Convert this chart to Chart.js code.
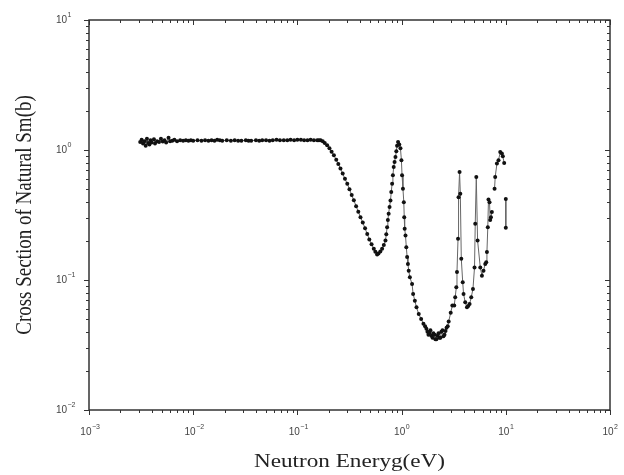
<!DOCTYPE html>
<html>
<head>
<meta charset="utf-8">
<script src="https://cdn.jsdelivr.net/npm/chart.js@4/dist/chart.umd.min.js"></script>
<style>
  html, body { margin: 0; padding: 0; background: #fff; }
  #wrap { width: 624px; height: 475px; }
</style>
</head>
<body>
<div id="wrap"><canvas id="chart" width="624" height="475"></canvas></div>
<script>
// neutron energy (eV), null = break in the line
const energy = [
    0.0031, 0.0032, 0.0033, 0.0034, 0.0035, 0.0036, 0.0037, 0.0038, 0.0039, 0.0040,
    0.0042, 0.0043, 0.0045, 0.0047, 0.0049, 0.0051, 0.0053, 0.0055, 0.0058, 0.0060,
    0.0063, 0.0066, 0.0070, 0.0075, 0.0080, 0.0085, 0.0090, 0.0095, 0.010, 0.011,
    0.012, 0.013, 0.014, 0.015, 0.016, 0.017, 0.018, 0.019, 0.021, 0.023,
    0.025, 0.027, 0.029, 0.032, 0.034, 0.036, 0.040, 0.043, 0.046, 0.050,
    0.054, 0.058, 0.063, 0.068, 0.074, 0.080, 0.086, 0.093, 0.100, 0.108,
    0.116, 0.125, 0.134, 0.144, 0.155, 0.161, 0.167, 0.175, 0.183, 0.193,
    0.203, 0.213, 0.224, 0.236, 0.247, 0.259, 0.272, 0.286, 0.301, 0.316,
    0.332, 0.348, 0.366, 0.384, 0.403, 0.424, 0.446, 0.468, 0.490, 0.515,
    0.541, 0.560, 0.582, 0.600, 0.625, 0.650, 0.675, 0.700, 0.713, 0.726,
    0.738, 0.751, 0.766, 0.782, 0.796, 0.811, 0.825, 0.840, 0.856, 0.873,
    0.890, 0.905, 0.925, 0.950, 0.975, 0.996, 1.01, 1.03, 1.05, 1.06,
    1.07, 1.09, 1.11, 1.13, 1.15, 1.17, 1.20, 1.26, 1.29, 1.34,
    1.39, 1.46, 1.54, 1.62, 1.68, 1.73, 1.77, 1.81, 1.85, 1.89,
    1.93, 1.98, 2.02, 2.07, 2.11, 2.16, 2.21, 2.26, 2.31, 2.36,
    2.41, 2.47, 2.52, 2.58, 2.64, 2.70, 2.77, 2.83, 2.96, 3.07,
    3.20, 3.27, 3.35, 3.40, 3.48, 3.52, 3.60, 3.66, 3.74, 3.86,
    3.93, 4.08, 4.24, 4.36, 4.49, 4.66, 4.84, 5.01, 5.09, 5.21,
    5.36, 5.69, 5.90, 6.11, 6.35, 6.49, 6.59, 6.72, 6.82, 6.98,
    7.08, 7.20, 7.35, null, 7.80, 7.91, 8.22, 8.51, 8.84, 9.17,
    9.36, 9.65, null, 10.0, 10.0,
];
// cross section of natural Sm (b)
const sigma = [
    1.15, 1.20, 1.12, 1.17, 1.08, 1.22, 1.13, 1.10, 1.19, 1.14,
    1.21, 1.12, 1.17, 1.15, 1.22, 1.16, 1.19, 1.14, 1.24, 1.17,
    1.18, 1.20, 1.17, 1.19, 1.18, 1.19, 1.18, 1.19, 1.18, 1.19,
    1.18, 1.19, 1.18, 1.19, 1.18, 1.20, 1.19, 1.18, 1.19, 1.18,
    1.19, 1.18, 1.18, 1.19, 1.18, 1.18, 1.19, 1.18, 1.19, 1.19,
    1.18, 1.19, 1.20, 1.19, 1.19, 1.19, 1.20, 1.19, 1.20, 1.20,
    1.19, 1.19, 1.20, 1.19, 1.19, 1.19, 1.19, 1.17, 1.13, 1.09,
    1.03, 0.97, 0.91, 0.84, 0.78, 0.72, 0.66, 0.60, 0.55, 0.50,
    0.45, 0.41, 0.37, 0.335, 0.304, 0.277, 0.250, 0.226, 0.205, 0.188,
    0.174, 0.165, 0.157, 0.160, 0.166, 0.174, 0.186, 0.201, 0.225, 0.255,
    0.290, 0.324, 0.365, 0.409, 0.475, 0.551, 0.640, 0.740, 0.810, 0.883,
    0.980, 1.08, 1.15, 1.10, 1.03, 0.833, 0.638, 0.504, 0.397, 0.304,
    0.248, 0.220, 0.179, 0.150, 0.133, 0.118, 0.105, 0.0933, 0.0782, 0.0693,
    0.0616, 0.0548, 0.0501, 0.0461, 0.0440, 0.0422, 0.0400, 0.0379, 0.0395, 0.0410,
    0.0372, 0.0360, 0.0390, 0.0380, 0.0350, 0.0350, 0.0372, 0.0390, 0.0360, 0.0360,
    0.0400, 0.0410, 0.0370, 0.0380, 0.0405, 0.0430, 0.0440, 0.0480, 0.0561, 0.0636,
    0.0636, 0.0736, 0.0879, 0.115, 0.208, 0.434, 0.676, 0.461, 0.146, 0.0959,
    0.0782, 0.0673, 0.0616, 0.0630, 0.0654, 0.0736, 0.0853, 0.125, 0.271, 0.619,
    0.201, 0.125, 0.108, 0.118, 0.133, 0.137, 0.164, 0.255, 0.417, 0.397,
    0.290, 0.304, 0.333, null, 0.504, 0.619, 0.786, 0.833, 0.965, 0.938,
    0.894, 0.794, null, 0.420, 0.252,
];
const xDecades = [-3, -2, -1, 0, 1, 2];
const yDecades = [-2, -1, 0, 1];
const xTitle = "Neutron Eneryg(eV)";
const yTitle = "Cross Section of Natural Sm(b)";

const points = energy.map((e, i) => ({ x: e === null ? NaN : e, y: sigma[i] }));

const minorValues = (decades) => {
    const vals = [];
    decades.slice(0, -1).forEach((d) => {
        for (let m = 2; m <= 9; m++) vals.push(m * Math.pow(10, d));
    });
    return vals;
};

// "10" with a small raised exponent
const drawPow = (ctx, exp, px, py, align) => {
    ctx.font = "10px 'Liberation Sans', Arial, sans-serif";
    const w10 = ctx.measureText("10").width;
    ctx.font = "7px 'Liberation Sans', Arial, sans-serif";
    const wExp = ctx.measureText(String(exp)).width;
    let x0 = align === "center" ? px - (w10 + wExp) / 2 : px - w10;
    ctx.textAlign = "left";
    ctx.textBaseline = "middle";
    ctx.font = "10px 'Liberation Sans', Arial, sans-serif";
    ctx.fillText("10", x0, py);
    ctx.font = "7px 'Liberation Sans', Arial, sans-serif";
    ctx.fillText(String(exp).replace("-", "\u2212"), x0 + w10 + 0.5, py - 5);
};

const framePlugin = {
    id: "frame",
    afterDraw(chart) {
        const { ctx, chartArea: a } = chart;
        const xs = chart.scales.x;
        const ys = chart.scales.y;
        ctx.save();
        ctx.strokeStyle = "#333";
        ctx.lineWidth = 1.5;
        ctx.strokeRect(a.left, a.top, a.right - a.left, a.bottom - a.top);

        ctx.lineWidth = 1;
        ctx.beginPath();
        xDecades.forEach((d) => {
            const px = Math.round(xs.getPixelForValue(Math.pow(10, d))) + 0.5;
            ctx.moveTo(px, a.bottom); ctx.lineTo(px, a.bottom + 5);
            ctx.moveTo(px, a.top); ctx.lineTo(px, a.top + 5);
        });
        minorValues(xDecades).forEach((v) => {
            const px = Math.round(xs.getPixelForValue(v)) + 0.5;
            ctx.moveTo(px, a.bottom); ctx.lineTo(px, a.bottom + 3);
            ctx.moveTo(px, a.top); ctx.lineTo(px, a.top + 3);
        });
        yDecades.forEach((d) => {
            const py = Math.round(ys.getPixelForValue(Math.pow(10, d))) + 0.5;
            ctx.moveTo(a.left, py); ctx.lineTo(a.left - 5, py);
            ctx.moveTo(a.right, py); ctx.lineTo(a.right - 5, py);
        });
        minorValues(yDecades).forEach((v) => {
            const py = Math.round(ys.getPixelForValue(v)) + 0.5;
            ctx.moveTo(a.left, py); ctx.lineTo(a.left - 3, py);
            ctx.moveTo(a.right, py); ctx.lineTo(a.right - 3, py);
        });
        ctx.stroke();

        ctx.fillStyle = "#444";
        xDecades.forEach((d) => {
            drawPow(ctx, d, xs.getPixelForValue(Math.pow(10, d)), a.bottom + 22, "center");
        });
        yDecades.forEach((d) => {
            drawPow(ctx, d, a.left - 22, ys.getPixelForValue(Math.pow(10, d)), "right");
        });

        // titles, slightly wide like the reference
        ctx.fillStyle = "#222";
        ctx.font = "19px 'Liberation Serif', 'Times New Roman', serif";
        ctx.textAlign = "center";
        ctx.textBaseline = "middle";
        ctx.save();
        ctx.translate((a.left + a.right) / 2, 462);
        ctx.scale(1.22, 1);
        ctx.fillText(xTitle, 0, 0);
        ctx.restore();
        ctx.translate(25, (a.top + a.bottom) / 2);
        ctx.scale(1.22, 1);
        ctx.rotate(-Math.PI / 2);
        ctx.fillText(yTitle, 0, 0);
        ctx.restore();
    },
};

const ctx = document.getElementById("chart").getContext("2d");
new Chart(ctx, {
    type: "scatter",
    data: {
        datasets: [
            {
                data: points,
                showLine: true,
                spanGaps: false,
                borderColor: "#666",
                borderWidth: 1,
                pointRadius: 2,
                pointBackgroundColor: "#111",
                pointBorderColor: "#111",
                pointBorderWidth: 0,
            },
        ],
    },
    options: {
        responsive: false,
        animation: false,
        devicePixelRatio: 1,
        layout: { padding: { left: 81, right: 14, top: 20, bottom: 57 } },
        plugins: { legend: { display: false }, tooltip: { enabled: false } },
        scales: {
            x: {
                type: "logarithmic",
                min: 0.001,
                max: 100,
                ticks: { display: false },
                grid: { display: false },
                border: { display: false },
            },
            y: {
                type: "logarithmic",
                min: 0.01,
                max: 10,
                ticks: { display: false },
                grid: { display: false },
                border: { display: false },
            },
        },
    },
    plugins: [framePlugin],
});
</script>
</body>
</html>
